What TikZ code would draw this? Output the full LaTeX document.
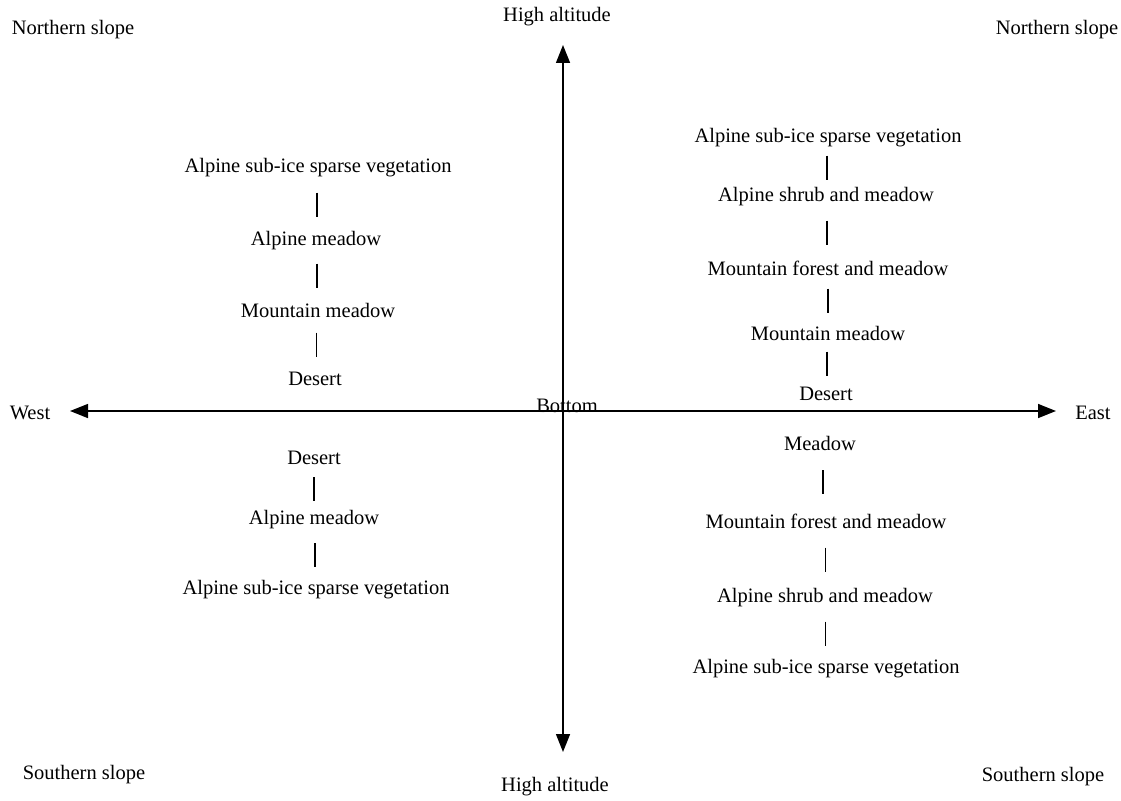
\documentclass[tikz,border=0pt]{standalone}
\usepackage{fontspec}
\setmainfont{Liberation Serif}
\usetikzlibrary{arrows.meta,calc}
\newcommand\vlink[2]{\draw[link] ($(#1)!.5!(#2)$) ++(0,-12) -- ++(0,24);}
\begin{document}
\begin{tikzpicture}[x=1pt,y=-1pt,
  every node/.style={font=\fontsize{20.5}{24}\selectfont, inner sep=0pt},
  axis/.style={line width=1.5pt,{Triangle[length=18pt,width=14pt]}-{Triangle[length=18pt,width=14pt]}},
  link/.style={line width=1.2pt}]
\useasboundingbox (0,0) rectangle (1121,800);
% axes
\coordinate (w) at (70,411);
\coordinate (e) at (1056,411);
\coordinate (n) at (563,45);
\coordinate (s) at (563,752);
\draw[axis] (w) -- (e);
\draw[axis] (n) -- (s);
\node (west)  at (30,413)   {West};
\node (east)  at (1093,413) {East};
\node (top)   at (557,17)   {High altitude};
\node (foot)  at (555,787)  {High altitude};
\node (bot)   at (567,406)  {Bottom};
% corners
\node (nwl) at (73,30)    {Northern slope};
\node (nel) at (1057,30)  {Northern slope};
\node (swl) at (84,775)   {Southern slope};
\node (sel) at (1043,777) {Southern slope};
% west, north
\node (wn1) at (318,168) {Alpine sub-ice sparse vegetation};
\node (wn2) at (316,241) {Alpine meadow};
\node (wn3) at (318,310) {Mountain meadow};
\node (wn4) at (315,379) {Desert};
\vlink{wn1}{wn2} \vlink{wn2}{wn3} \vlink{wn3}{wn4}
% west, south
\node (ws1) at (314,458) {Desert};
\node (ws2) at (314,520) {Alpine meadow};
\node (ws3) at (316,590) {Alpine sub-ice sparse vegetation};
\vlink{ws1}{ws2} \vlink{ws2}{ws3}
% east, north
\node (en1) at (828,138) {Alpine sub-ice sparse vegetation};
\node (en2) at (826,197) {Alpine shrub and meadow};
\node (en3) at (828,268) {Mountain forest and meadow};
\node (en4) at (828,333) {Mountain meadow};
\node (en5) at (826,394) {Desert};
\vlink{en1}{en2} \vlink{en2}{en3} \vlink{en3}{en4} \vlink{en4}{en5}
% east, south
\node (es1) at (820,443) {Meadow};
\node (es2) at (826,521) {Mountain forest and meadow};
\node (es3) at (825,598) {Alpine shrub and meadow};
\node (es4) at (826,669) {Alpine sub-ice sparse vegetation};
\vlink{es1}{es2} \vlink{es2}{es3} \vlink{es3}{es4}
\end{tikzpicture}
\end{document}
